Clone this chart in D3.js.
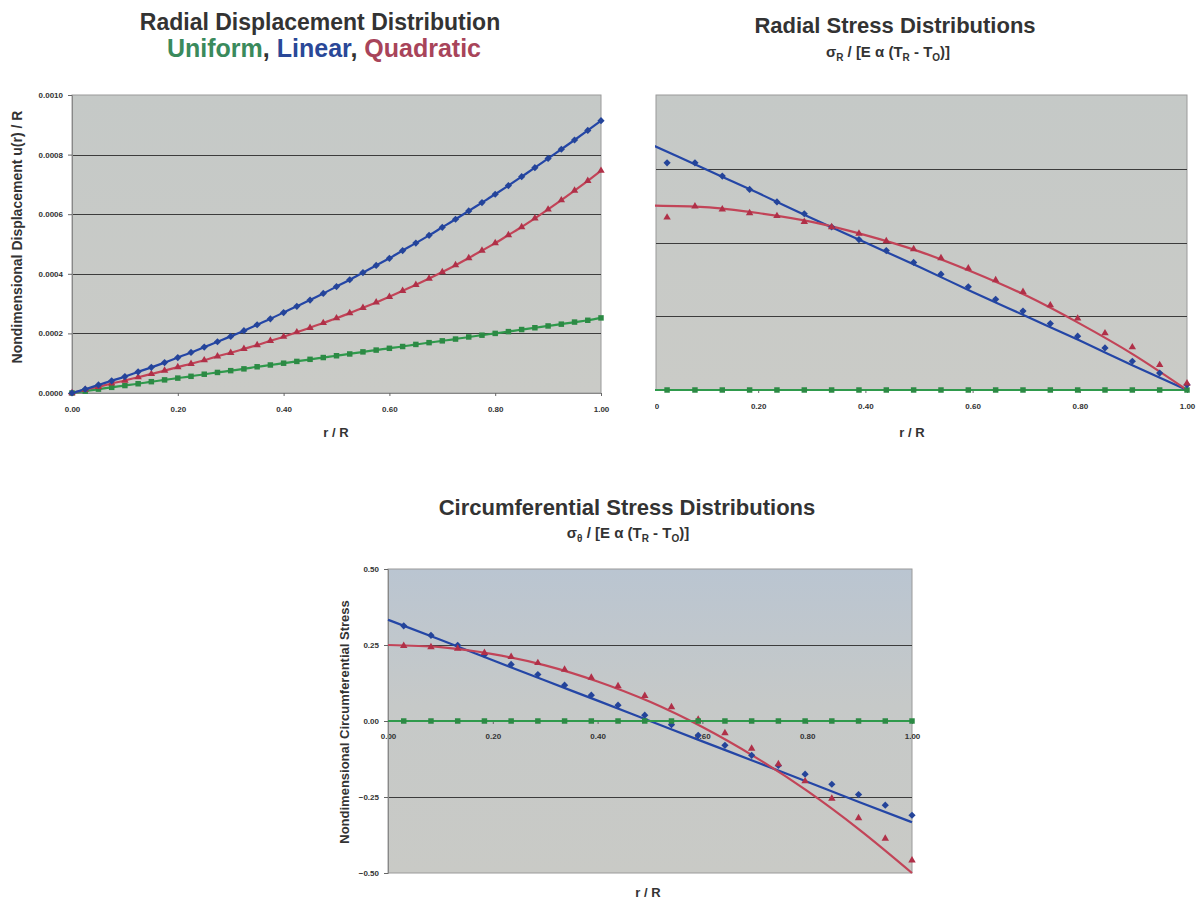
<!DOCTYPE html>
<html>
<head>
<script src="https://cdnjs.cloudflare.com/ajax/libs/d3/7.8.5/d3.min.js"></script>
<style>
  body { margin: 0; background: #fff; }
  svg text { font-family: "Liberation Sans", Arial, sans-serif; fill: #333; }
  .tick text { font-size: 8px; font-weight: bold; }
  .axis-title { font-size: 13px; font-weight: bold; }
</style>
</head>
<body>
<div id="chart"></div>
<script>
// r / R positions
const rFine = [0, 0.025, 0.05, 0.075, 0.1, 0.125, 0.15, 0.175, 0.2, 0.225, 0.25, 0.275, 0.3, 0.325, 0.35, 0.375,
  0.4, 0.425, 0.45, 0.475, 0.5, 0.525, 0.55, 0.575, 0.6, 0.625, 0.65, 0.675, 0.7, 0.725, 0.75, 0.775,
  0.8, 0.825, 0.85, 0.875, 0.9, 0.925, 0.95, 0.975, 1.0];
const rStress = [0.03, 0.082, 0.133, 0.184, 0.235, 0.286, 0.337, 0.388, 0.439, 0.49, 0.541, 0.592,
  0.643, 0.694, 0.745, 0.796, 0.847, 0.898, 0.949, 1.0];
const rLine = [0, 0.1, 0.2, 0.3, 0.4, 0.5, 0.6, 0.7, 0.8, 0.9, 1.0];

// radial displacement u(r)/R, in units of 1e-4
const dispUniform = [0, 0.06, 0.13, 0.19, 0.25, 0.31, 0.38, 0.44, 0.50, 0.56, 0.63, 0.69, 0.75, 0.81, 0.88, 0.94,
  1.00, 1.06, 1.13, 1.19, 1.25, 1.31, 1.38, 1.44, 1.50, 1.56, 1.63, 1.69, 1.75, 1.81, 1.88, 1.94,
  2.00, 2.06, 2.13, 2.19, 2.25, 2.31, 2.38, 2.44, 2.52];
const dispLinear = [0, 0.13, 0.27, 0.41, 0.55, 0.71, 0.86, 1.02, 1.19, 1.36, 1.54, 1.72, 1.90, 2.09, 2.29, 2.49,
  2.70, 2.91, 3.12, 3.34, 3.57, 3.80, 4.04, 4.28, 4.52, 4.78, 5.03, 5.29, 5.56, 5.83, 6.11, 6.39,
  6.67, 6.96, 7.26, 7.56, 7.87, 8.18, 8.49, 8.81, 9.14];
const dispQuadratic = [0, 0.11, 0.21, 0.32, 0.42, 0.53, 0.64, 0.75, 0.87, 0.98, 1.10, 1.23, 1.35, 1.48, 1.61, 1.75,
  1.89, 2.04, 2.19, 2.35, 2.51, 2.68, 2.86, 3.04, 3.23, 3.43, 3.63, 3.84, 4.06, 4.29, 4.53, 4.78,
  5.03, 5.30, 5.57, 5.86, 6.16, 6.47, 6.79, 7.12, 7.46];

// radial stress sigma_R / [E alpha (TR - TO)]
const radialUniformPts = [0, 0, 0, 0, 0, 0, 0, 0, 0, 0, 0, 0, 0, 0, 0, 0, 0, 0, 0, 0];
const radialLinearPts = [0.308, 0.308, 0.290, 0.272, 0.255, 0.239, 0.221, 0.204, 0.189, 0.173, 0.157, 0.140,
  0.123, 0.107, 0.090, 0.073, 0.057, 0.039, 0.023, 0.007];
const radialQuadPts = [0.234, 0.249, 0.245, 0.240, 0.236, 0.228, 0.221, 0.212, 0.202, 0.191, 0.179, 0.165,
  0.149, 0.133, 0.115, 0.097, 0.077, 0.058, 0.034, 0.009];
const radialUniformLine = [0, 0, 0, 0, 0, 0, 0, 0, 0, 0, 0];
const radialLinearLine = [0.333, 0.300, 0.267, 0.233, 0.200, 0.167, 0.133, 0.100, 0.067, 0.033, 0];
const radialQuadLine = [0.250, 0.248, 0.240, 0.228, 0.210, 0.188, 0.160, 0.128, 0.090, 0.048, 0];

// circumferential stress sigma_theta / [E alpha (TR - TO)]
const circUniformPts = [0, 0, 0, 0, 0, 0, 0, 0, 0, 0, 0, 0, 0, 0, 0, 0, 0, 0, 0, 0];
const circLinearPts = [0.313, 0.282, 0.249, 0.218, 0.186, 0.153, 0.118, 0.085, 0.052, 0.019, -0.012, -0.047,
  -0.080, -0.113, -0.146, -0.175, -0.208, -0.242, -0.277, -0.310];
const circQuadPts = [0.247, 0.243, 0.238, 0.224, 0.211, 0.191, 0.169, 0.143, 0.115, 0.083, 0.046, 0.005,
  -0.040, -0.091, -0.142, -0.198, -0.255, -0.319, -0.387, -0.458];
const circUniformLine = [0, 0, 0, 0, 0, 0, 0, 0, 0, 0, 0];
const circLinearLine = [0.333, 0.267, 0.200, 0.133, 0.067, 0, -0.067, -0.133, -0.200, -0.267, -0.333];
const circQuadLine = [0.250, 0.243, 0.220, 0.183, 0.130, 0.063, -0.020, -0.118, -0.230, -0.358, -0.500];

const xTicks = [0, 0.2, 0.4, 0.6, 0.8, 1.0];

const colors = {
  uniform: "#2f9a4c", uniformMark: "#2c8a44",
  linear: "#2446a6", linearMark: "#24449a",
  quad: "#c24458", quadMark: "#b03048"
};

const width = 1198, height = 901;
const svg = d3.select("#chart").append("svg")
  .attr("width", width).attr("height", height);

const defs = svg.append("defs");
const grad = defs.append("linearGradient").attr("id", "bluish")
  .attr("x1", 0).attr("y1", 0).attr("x2", 0).attr("y2", 1);
grad.append("stop").attr("offset", "0%").attr("stop-color", "#bac5d1");
grad.append("stop").attr("offset", "45%").attr("stop-color", "#c6c9c8");
grad.append("stop").attr("offset", "100%").attr("stop-color", "#c9cac6");

const grayFill = defs.append("linearGradient").attr("id", "gray")
  .attr("x1", 0).attr("y1", 0).attr("x2", 0).attr("y2", 1);
grayFill.append("stop").attr("offset", "0%").attr("stop-color", "#c5c9c7");
grayFill.append("stop").attr("offset", "100%").attr("stop-color", "#cacbc7");

function markerPath(kind) {
  if (kind === "diamond") return d3.symbol(d3.symbolSquare, 26)();
  if (kind === "triangle") return d3.symbol(d3.symbolTriangle, 24)();
  return d3.symbol(d3.symbolSquare, 30)();
}

function drawPanel(cfg) {
  let g = svg.append("g");
  if (cfg.clipLeft !== undefined) {
    const id = "clip" + cfg.id;
    defs.append("clipPath").attr("id", id).append("rect")
      .attr("x", cfg.clipLeft).attr("y", 0).attr("width", width).attr("height", height);
    g.attr("clip-path", `url(#${id})`);
  }
  const x = d3.scaleLinear().domain([0, 1]).range(cfg.xRange);
  const y = d3.scaleLinear().domain(cfg.yDomain).range(cfg.yRange);
  const left = cfg.plotLeft !== undefined ? cfg.plotLeft : cfg.xRange[0];

  g.append("rect")
    .attr("x", left).attr("y", cfg.yRange[1])
    .attr("width", cfg.xRange[1] - left)
    .attr("height", cfg.yRange[0] - cfg.yRange[1])
    .attr("fill", `url(#${cfg.fill})`)
    .attr("stroke", "#9a9a9a").attr("stroke-width", 1);

  g.append("g").selectAll("line").data(cfg.grid).join("line")
    .attr("x1", left).attr("x2", cfg.xRange[1])
    .attr("y1", d => Math.round(y(d)) + 0.5).attr("y2", d => Math.round(y(d)) + 0.5)
    .attr("stroke", "#3c3c3c").attr("stroke-width", 1);

  // x axis
  const xAxis = g.append("g")
    .attr("transform", `translate(0,${y(cfg.xAxisAt)})`)
    .call(d3.axisBottom(x).tickValues(xTicks).tickFormat(d3.format(".2f")).tickSize(3).tickPadding(cfg.xPad || 10));
  xAxis.select(".domain").attr("stroke", "#888");
  xAxis.selectAll(".tick line").attr("stroke", "#666");

  if (cfg.yTicks) {
    const yAxis = g.append("g")
      .attr("transform", `translate(${cfg.xRange[0]},0)`)
      .call(d3.axisLeft(y).tickValues(cfg.yTicks).tickFormat(d3.format(cfg.yFormat)).tickSize(4).tickPadding(5));
    yAxis.select(".domain").attr("stroke", "#888");
    yAxis.selectAll(".tick line").attr("stroke", "#666");
  }

  const line = d3.line().x(d => x(d[0])).y(d => y(d[1])).curve(d3.curveMonotoneX);

  cfg.series.forEach(s => {
    g.append("path")
      .datum(s.lineX.map((r, i) => [r, s.lineY[i]]))
      .attr("fill", "none").attr("stroke", s.color).attr("stroke-width", 2.2)
      .attr("d", line);
  });
  cfg.series.forEach(s => {
    g.append("g").selectAll("path")
      .data(s.ptX.map((r, i) => [r, s.ptY[i]]))
      .join("path")
      .attr("transform", d => `translate(${x(d[0])},${y(d[1])})` + (s.marker === "diamond" ? " rotate(45)" : ""))
      .attr("d", markerPath(s.marker))
      .attr("fill", s.markColor);
  });

  return { x, y, g };
}

// ---------- Radial displacement ----------
const toUnits = v => v * 1e-4;
drawPanel({
  id: "a", fill: "gray",
  xRange: [72, 601], yRange: [393, 95], yDomain: [0, 0.001],
  grid: [0.0002, 0.0004, 0.0006, 0.0008], xAxisAt: 0,
  yTicks: [0, 0.0002, 0.0004, 0.0006, 0.0008, 0.0010], yFormat: ".4f",
  series: [
    { lineX: rFine, lineY: dispUniform.map(toUnits), ptX: rFine, ptY: dispUniform.map(toUnits), color: colors.uniform, markColor: colors.uniformMark, marker: "square" },
    { lineX: rFine, lineY: dispQuadratic.map(toUnits), ptX: rFine, ptY: dispQuadratic.map(toUnits), color: colors.quad, markColor: colors.quadMark, marker: "triangle" },
    { lineX: rFine, lineY: dispLinear.map(toUnits), ptX: rFine, ptY: dispLinear.map(toUnits), color: colors.linear, markColor: colors.linearMark, marker: "diamond" }
  ]
});

// ---------- Radial stress ----------
drawPanel({
  id: "b", fill: "gray", clipLeft: 655, plotLeft: 656,
  xRange: [651, 1187], yRange: [390, 95], yDomain: [0, 0.4],
  grid: [0.1, 0.2, 0.3], xAxisAt: 0,
  series: [
    { lineX: rLine, lineY: radialUniformLine, ptX: rStress, ptY: radialUniformPts, color: colors.uniform, markColor: colors.uniformMark, marker: "square" },
    { lineX: rLine, lineY: radialLinearLine, ptX: rStress, ptY: radialLinearPts, color: colors.linear, markColor: colors.linearMark, marker: "diamond" },
    { lineX: rLine, lineY: radialQuadLine, ptX: rStress, ptY: radialQuadPts, color: colors.quad, markColor: colors.quadMark, marker: "triangle" }
  ]
});

// ---------- Circumferential stress ----------
drawPanel({
  id: "c", fill: "bluish",
  xRange: [388, 912], yRange: [873, 569], yDomain: [-0.5, 0.5],
  grid: [0.25, -0.25], xAxisAt: 0, xPad: 9,
  yTicks: [-0.5, -0.25, 0, 0.25, 0.5], yFormat: ".2f",
  series: [
    { lineX: rLine, lineY: circLinearLine, ptX: rStress, ptY: circLinearPts, color: colors.linear, markColor: colors.linearMark, marker: "diamond" },
    { lineX: rLine, lineY: circQuadLine, ptX: rStress, ptY: circQuadPts, color: colors.quad, markColor: colors.quadMark, marker: "triangle" },
    { lineX: rLine, lineY: circUniformLine, ptX: rStress, ptY: circUniformPts, color: colors.uniform, markColor: colors.uniformMark, marker: "square" }
  ]
});

// ---------- titles ----------
function title(x, y, text, size) {
  return svg.append("text").attr("x", x).attr("y", y).attr("text-anchor", "middle")
    .style("font-size", size + "px").style("font-weight", "bold").text(text);
}
title(320, 30, "Radial Displacement Distribution", 23);
const sub = svg.append("text").attr("x", 324).attr("y", 57).attr("text-anchor", "middle")
  .style("font-size", "25px").style("font-weight", "bold");
sub.append("tspan").style("fill", "#3a8a5c").text("Uniform");
sub.append("tspan").text(", ");
sub.append("tspan").style("fill", "#2a4898").text("Linear");
sub.append("tspan").text(", ");
sub.append("tspan").style("fill", "#a8445a").text("Quadratic");

function stressSub(x, y, sym) {
  const t = svg.append("text").attr("x", x).attr("y", y).attr("text-anchor", "middle")
    .style("font-size", "15px").style("font-weight", "bold");
  t.append("tspan").text("σ");
  t.append("tspan").attr("dy", 4).style("font-size", "10px").text(sym);
  t.append("tspan").attr("dy", -4).text(" / [E α (T");
  t.append("tspan").attr("dy", 4).style("font-size", "10px").text("R");
  t.append("tspan").attr("dy", -4).text(" - T");
  t.append("tspan").attr("dy", 4).style("font-size", "10px").text("O");
  t.append("tspan").attr("dy", -4).text(")]");
}
title(895, 33, "Radial Stress Distributions", 22);
stressSub(888, 57, "R");
title(627, 515, "Circumferential Stress Distributions", 22);
stressSub(628, 538, "θ");

// axis titles
svg.append("text").attr("class", "axis-title").attr("text-anchor", "middle")
  .style("font-size", "14px")
  .attr("transform", "translate(22,237) rotate(-90)").text("Nondimensional Displacement u(r) / R");
svg.append("text").attr("class", "axis-title").attr("text-anchor", "middle")
  .attr("x", 336).attr("y", 437).text("r / R");
svg.append("text").attr("class", "axis-title").attr("text-anchor", "middle")
  .attr("x", 912).attr("y", 437).text("r / R");
svg.append("text").attr("class", "axis-title").attr("text-anchor", "middle")
  .style("font-size", "13px")
  .attr("transform", "translate(349,722) rotate(-90)").text("Nondimensional Circumferential Stress");
svg.append("text").attr("class", "axis-title").attr("text-anchor", "middle")
  .attr("x", 648).attr("y", 897).text("r / R");
</script>
</body>
</html>
